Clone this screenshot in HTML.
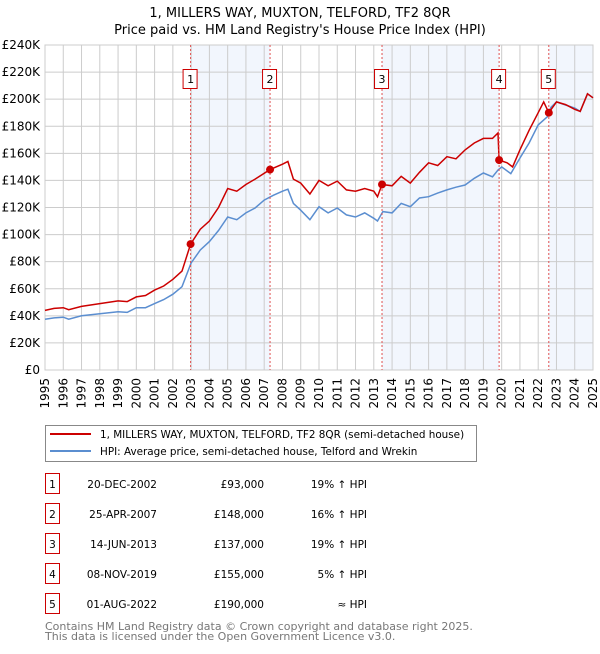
<!DOCTYPE html>
<html><head><meta charset="utf-8"><style>
body{margin:0;background:#fff;width:600px;height:650px;overflow:hidden;font-family:"DejaVu Sans","Liberation Sans",sans-serif;}
svg text{font-family:"DejaVu Sans","Liberation Sans",sans-serif;}
</style></head><body>
<svg id="chart" width="600" height="650">
<text x="300" y="17" text-anchor="middle" font-size="13">1, MILLERS WAY, MUXTON, TELFORD, TF2 8QR</text>
<text x="300" y="34" text-anchor="middle" font-size="13">Price paid vs. HM Land Registry's House Price Index (HPI)</text>
<g id="shade"></g><g id="grid"></g><g id="axes"></g><g id="lines"></g><g id="marks"></g>
<g>
<rect x="45.5" y="425.5" width="431" height="36" fill="#fff" stroke="#888"/>
<line x1="50" y1="434" x2="91" y2="434" stroke="#cc0000" stroke-width="2"/>
<text x="100" y="438" font-size="10.4">1, MILLERS WAY, MUXTON, TELFORD, TF2 8QR (semi-detached house)</text>
<line x1="50" y1="451" x2="91" y2="451" stroke="#5b8ed0" stroke-width="2"/>
<text x="100" y="455" font-size="10.4">HPI: Average price, semi-detached house, Telford and Wrekin</text>
</g>
<g id="table"></g>
<text x="45" y="630" font-size="11" fill="#777">Contains HM Land Registry data © Crown copyright and database right 2025.</text>
<text x="45" y="640" font-size="11" fill="#777">This data is licensed under the Open Government Licence v3.0.</text>
</svg>
<script>
const hpiYears=[1995,1995.5,1996,1996.3,1997,1998,1999,1999.5,2000,2000.5,2001,2001.5,2002,2002.5,2003,2003.5,2004,2004.5,2005,2005.5,2006,2006.5,2007,2007.5,2008,2008.3,2008.6,2009,2009.5,2010,2010.5,2011,2011.5,2012,2012.5,2013,2013.2,2013.5,2014,2014.5,2015,2015.5,2016,2016.5,2017,2017.5,2018,2018.5,2019,2019.5,2019.8,2020,2020.5,2021,2021.5,2022,2022.5,2022.7,2023,2023.5,2024,2024.3,2024.7,2025];
const hpiValues=[37.5,38.5,39,37.5,40,41.5,43,42.5,46,46,49,52,56,61.5,79,88.6,94.8,103,113,111,116,119.6,125.5,129,132,133.5,123,118,111,120.6,116,119.6,114.5,113,116,112,110,117,116,123,120.6,127,128,130.6,133,135,136.6,141.6,145.5,142.7,147.7,150,145,156.5,167.6,181,187,194,198,195.7,193.5,191,204,201];
const redYears=[1995,1995.5,1996,1996.3,1997,1998,1999,1999.5,2000,2000.5,2001,2001.5,2002,2002.5,2002.97,2003.5,2004,2004.5,2005,2005.5,2006,2006.5,2007.32,2008,2008.3,2008.6,2009,2009.5,2010,2010.5,2011,2011.5,2012,2012.5,2013,2013.2,2013.45,2014,2014.5,2015,2015.5,2016,2016.5,2017,2017.5,2018,2018.5,2019,2019.5,2019.8,2019.86,2020.3,2020.6,2021,2021.5,2022,2022.3,2022.58,2023,2023.5,2024,2024.3,2024.7,2025];
const redValues=[44,45.5,46,44.5,47,49,51,50.5,54,55,59,62,67,73,93,104,110,120,134,132,137,141,148,152,154,141,138,130,140,136,139.5,133,132,134,132,128,137,136,143,138,146,153,151,157.5,156,162.5,167.6,171,171,175,155,153,150,162.5,177,190,198,190,198,196,192.5,191,204,201];
const saleYears=[2002.97,2007.32,2013.45,2019.86,2022.58];
const saleValues=[93,148,137,155,190];
const saleLabels=["1","2","3","4","5"];
const saleDates=["20-DEC-2002","25-APR-2007","14-JUN-2013","08-NOV-2019","01-AUG-2022"];
const salePrices=["£93,000","£148,000","£137,000","£155,000","£190,000"];
const saleHpi=["19% ↑ HPI","16% ↑ HPI","19% ↑ HPI","5% ↑ HPI","≈ HPI"];
const yTicks=[0,20,40,60,80,100,120,140,160,180,200,220,240];
const xTicks=[1995,1996,1997,1998,1999,2000,2001,2002,2003,2004,2005,2006,2007,2008,2009,2010,2011,2012,2013,2014,2015,2016,2017,2018,2019,2020,2021,2022,2023,2024,2025];

const L=45,R=593,T=45,B=370;
const xs=y=>L+(y-1995)/30*(R-L);
const ys=v=>B-v/240*(B-T);
const NS="http://www.w3.org/2000/svg";
function mk(p,tag,a){const e=document.createElementNS(NS,tag);for(const k in a)e.setAttribute(k,a[k]);p.appendChild(e);return e;}
const shade=document.getElementById('shade'),grid=document.getElementById('grid'),axes=document.getElementById('axes'),lines=document.getElementById('lines'),marks=document.getElementById('marks'),table=document.getElementById('table');
const spans=[[saleYears[0],saleYears[1]],[saleYears[2],saleYears[3]],[saleYears[4],2025]];
spans.forEach((s,i)=>{const r=mk(shade,'rect',{x:xs(s[0]),y:T,width:xs(s[1])-xs(s[0]),height:B-T,fill:'#f2f6fd'});

});
yTicks.forEach(v=>{const l=mk(grid,'line',{x1:L,x2:R,y1:ys(v),y2:ys(v),stroke:'#ccc','stroke-width':1});


const t=mk(axes,'text',{x:L-5,y:ys(v)+4,'text-anchor':'end','font-size':12});t.textContent='£'+v+(v?'K':'');

});
xTicks.forEach(y=>{const l=mk(grid,'line',{x1:xs(y),x2:xs(y),y1:T,y2:B,stroke:'#ccc','stroke-width':1});


const t=mk(axes,'text',{transform:`translate(${xs(y)+4},${B+8}) rotate(-90)`,'text-anchor':'end','font-size':12});t.textContent=y;

});
function path(xa,va){return xa.map((x,i)=>(i?'L':'M')+xs(x).toFixed(1)+','+ys(va[i]).toFixed(1)).join('');}
const hp=mk(lines,'path',{d:path(hpiYears,hpiValues),fill:'none',stroke:'#5b8ed0','stroke-width':1.5});


const rp=mk(lines,'path',{d:path(redYears,redValues),fill:'none',stroke:'#cc0000','stroke-width':1.5});


saleYears.forEach((y,i)=>{
const v=mk(marks,'line',{x1:xs(y),x2:xs(y),y1:T,y2:B,stroke:'#e05050','stroke-width':1,'stroke-dasharray':'2,2'});


const c=mk(marks,'circle',{cx:xs(y),cy:ys(saleValues[i]),r:4,fill:'#cc0000'});


const b=mk(marks,'rect',{x:xs(y)-7.5,y:69.5,width:14,height:19,fill:'#fff',stroke:'#cc0000'});


const t=mk(marks,'text',{x:xs(y),y:83,'text-anchor':'middle','font-size':11});t.textContent=saleLabels[i];


const ry=473+i*30;
const tb=mk(table,'rect',{x:45.5,y:ry+0.5,width:14,height:20,fill:'#fff',stroke:'#cc0000'});


const tn=mk(table,'text',{x:52.5,y:ry+15,'text-anchor':'middle','font-size':10.5});tn.textContent=saleLabels[i];


const td=mk(table,'text',{x:157,y:ry+15,'text-anchor':'end','font-size':10.5});td.textContent=saleDates[i];


const tp=mk(table,'text',{x:264,y:ry+15,'text-anchor':'end','font-size':10.5});tp.textContent=salePrices[i];


const th=mk(table,'text',{x:367,y:ry+15,'text-anchor':'end','font-size':10.5});th.textContent=saleHpi[i];


});
const fr=mk(axes,'rect',{x:L,y:T,width:R-L,height:B-T,fill:'none',stroke:'#ccc'});


</script>
</body></html>
